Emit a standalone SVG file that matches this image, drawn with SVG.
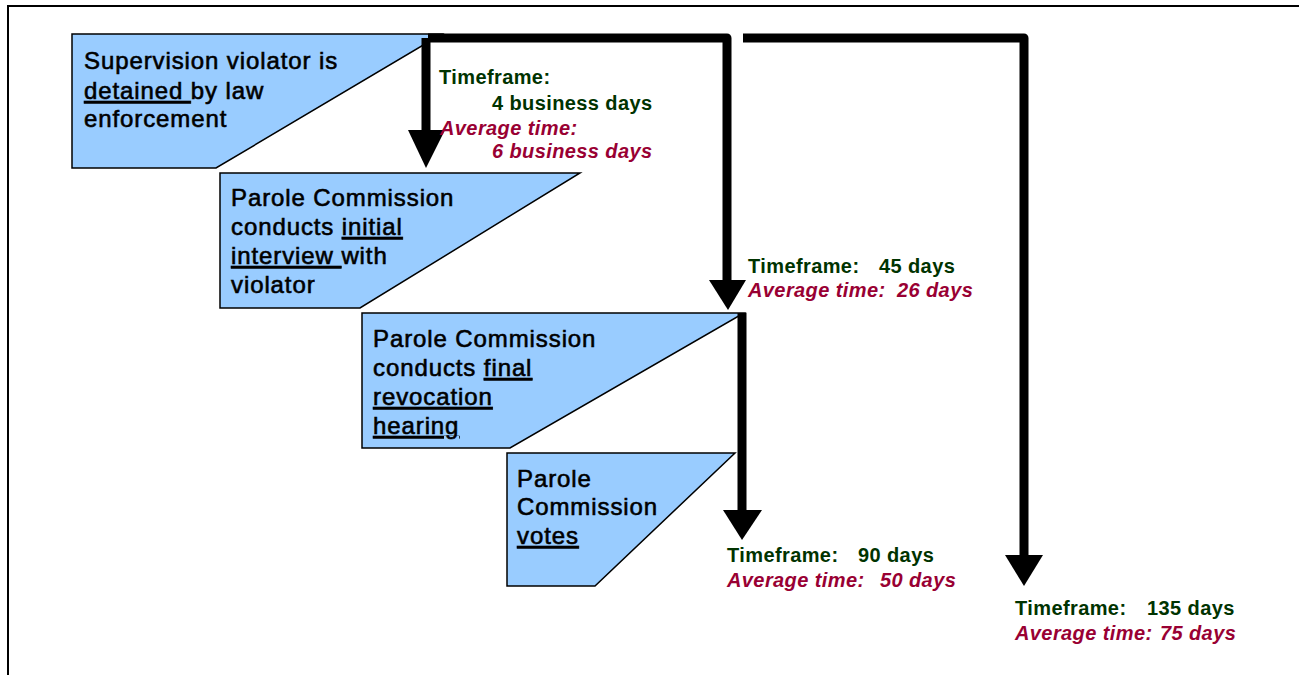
<svg xmlns="http://www.w3.org/2000/svg" width="1299" height="675" viewBox="0 0 1299 675">
<style>
.node{fill:#99ccff;stroke:#000;stroke-width:1.5;stroke-linejoin:miter}
.nt{font-family:"Liberation Sans",Arial,sans-serif;font-size:24px;font-weight:normal;letter-spacing:0.9px;fill:#000;stroke:#000;stroke-width:0.6px}
.u{text-decoration:underline}
.tf{font-family:"Liberation Sans",Arial,sans-serif;font-size:20px;font-weight:bold;letter-spacing:0.4px;fill:#003300}
.av{font-family:"Liberation Sans",Arial,sans-serif;font-size:20px;font-weight:bold;font-style:italic;letter-spacing:0.4px;fill:#990033}
.shaft{fill:none;stroke:#000;stroke-width:9;stroke-linejoin:round}
.head{fill:#000}
</style>
<rect width="1299" height="675" fill="#fff"/>
<path d="M8,675 V6 H1299" fill="none" stroke="#000" stroke-width="2"/>

<g id="n1">
<polygon class="node" points="72,34 442,34 216,168 72,168"/>
<text class="nt"><tspan x="84" y="69">Supervision violator is</tspan><tspan x="84" y="99"><tspan class="u">detained </tspan>by law</tspan><tspan x="84" y="127">enforcement</tspan></text>
</g>
<g id="n2">
<polygon class="node" points="220,173 580,173 360,308 220,308"/>
<text class="nt"><tspan x="231" y="206">Parole Commission</tspan><tspan x="231" y="235">conducts <tspan class="u">initial</tspan></tspan><tspan x="231" y="264"><tspan class="u">interview </tspan>with</tspan><tspan x="231" y="293">violator</tspan></text>
</g>
<g id="n3">
<polygon class="node" points="362,313 744,313 510,448 362,448"/>
<text class="nt"><tspan x="373" y="347">Parole Commission</tspan><tspan x="373" y="376">conducts <tspan class="u">final</tspan></tspan><tspan x="373" y="405" class="u">revocation</tspan><tspan x="373" y="434" class="u">hearing</tspan></text>
</g>
<g id="n4">
<polygon class="node" points="507,453 735,453 595,586 507,586"/>
<text class="nt"><tspan x="517" y="487">Parole</tspan><tspan x="517" y="515">Commission</tspan><tspan x="517" y="544" class="u">votes</tspan></text>
</g>

<g id="connectors">
<path class="shaft" d="M426,38 V132"/>
<polygon class="head" points="408,130 445,130 426,168"/>
<path class="shaft" d="M428,38 H727 V282"/>
<polygon class="head" points="709,280 746,280 728,310"/>
<path class="shaft" d="M743,38 H1024 V557"/>
<polygon class="head" points="1005,555 1043,555 1024,586"/>
<path class="shaft" d="M742,313 V512"/>
<polygon class="head" points="723,510 762,510 742,540"/>
</g>

<g id="labels">
<text class="tf" x="439" y="84">Timeframe:</text>
<text class="tf" x="492" y="110">4 business days</text>
<text class="av" x="440" y="135">Average time:</text>
<text class="av" x="492" y="158">6 business days</text>

<text class="tf" x="748" y="273">Timeframe:<tspan x="879">45 days</tspan></text>
<text class="av" x="748" y="297">Average time:<tspan x="897">26 days</tspan></text>

<text class="tf" x="727" y="562">Timeframe:<tspan x="858">90 days</tspan></text>
<text class="av" x="727" y="587">Average time:<tspan x="880">50 days</tspan></text>

<text class="tf" x="1015" y="615">Timeframe:<tspan x="1147">135 days</tspan></text>
<text class="av" x="1015" y="640">Average time:<tspan x="1160">75 days</tspan></text>
</g>
</svg>
